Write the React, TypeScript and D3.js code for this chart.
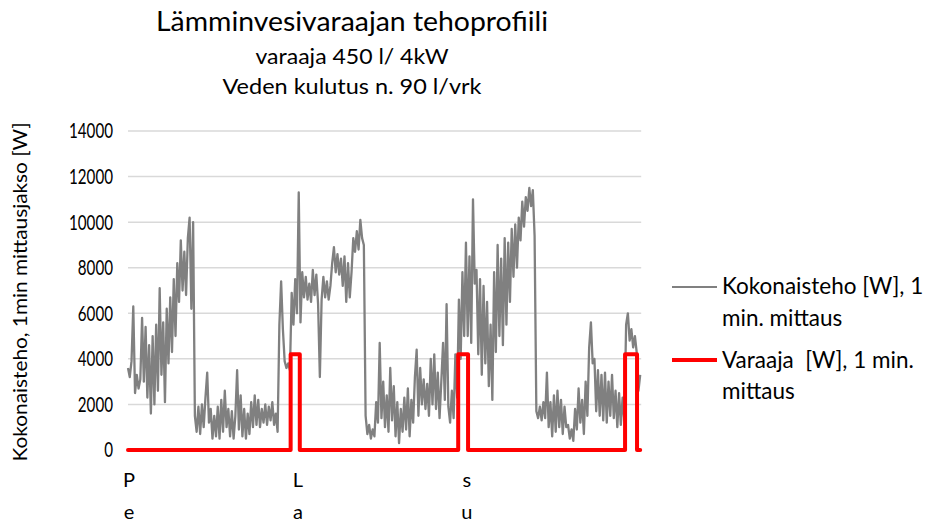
import React from "react";
import * as d3 from "d3";

// Kokonaisteho [W], one reading per 15 minutes, per day (Pe = Fri, La = Sat, Su = Sun)
const kokonaisPe: number[] = [
  3600, 3200, 3900, 6300, 2500, 3300, 2700, 3100, 5800, 3000,
  5400, 2300, 4600, 1600, 5000, 2000, 5500, 2600, 7100, 3300,
  5600, 2100, 6200, 3800, 6700, 4300, 7500, 5000, 8200, 6500,
  9200, 7000, 8700, 6800, 9300, 10200, 6200, 10000, 1500, 800,
  1900, 700, 2000, 1000, 2300, 3400, 1200, 1800, 500, 1500,
  600, 1900, 500, 2200, 800, 2600, 1000, 1800, 600, 1700,
  500, 1500, 3500, 900, 2400, 600, 1800, 500, 1600, 700,
  2100, 1000, 2400, 1100, 2200, 1000, 1800, 1200, 2000, 1100,
  1900, 1300, 2100, 1100, 1600, 800, 5500, 7400, 5300, 3900,
  3600, 3800, 3500, 6900, 5500, 7500,
];
const kokonaisLa: number[] = [
  6000, 11300, 5600, 7800, 6700, 7600, 6600, 7300, 6500, 7900,
  6800, 7700, 6400, 3200, 6600, 7600, 6700, 7400, 6600, 7200,
  8200, 8900, 7800, 8600, 7700, 8400, 7200, 8500, 6500, 8200,
  6700, 7800, 9300, 8700, 9600, 8800, 10100, 9300, 9000, 1500,
  700, 1100, 500, 900, 600, 2100, 1200, 4700, 1400, 3000,
  1000, 2400, 800, 3600, 1300, 2800, 600, 2100, 300, 1800,
  800, 2300, 900, 2700, 600, 2200, 1200, 3200, 4400, 1500,
  3600, 2000, 3100, 1800, 2900, 1500, 4000, 2000, 4200, 1800,
  3400, 1400, 3000, 4700, 2200, 6400, 1900, 1200, 2600, 1400,
  4200, 2300, 6600, 4000, 7800, 5000,
];
const kokonaisSu: number[] = [
  9100, 5000, 8500, 4700, 11000, 7300, 7900, 4200, 7500, 3300,
  7200, 3800, 6500, 2800, 5500, 2200, 7800, 4300, 9000, 5000,
  8400, 4600, 9300, 5500, 9100, 6500, 9700, 7600, 9900, 8000,
  10200, 9200, 10900, 9800, 11100, 10500, 11500, 10700, 11400, 9400,
  1700, 1400, 1900, 1300, 2100, 1400, 3400, 1000, 2100, 600,
  2400, 800, 2600, 1000, 2200, 700, 1900, 1000, 1100, 500,
  900, 400, 1800, 900, 2700, 1200, 2200, 700, 3000, 1500,
  4500, 5600, 3800, 4000, 1700, 3500, 1500, 3300, 1300, 3400,
  1200, 3000, 1500, 3300, 1400, 2600, 1000, 2500, 1100, 2300,
  1300, 5500, 6000, 4800, 5300, 4500, 5000, 4300, 2600, 3300,
];
const mittausvaliH = 0.25;

// Varaaja [W]: on/off switching moments (hours from start) and power after each moment
const varaajaAika: number[] = [0, 23.1, 24.4, 46.9, 48.3, 70.6, 72.3, 72.75];
const varaajaTeho: number[] = [0, 4200, 0, 4200, 0, 4200, 0, 0];

const yTicks: number[] = [0, 2000, 4000, 6000, 8000, 10000, 12000, 14000];
const paivat: string[] = ["Pe", "La", "su"];
const paivaAlku: number[] = [0, 24, 48];

const otsikko = "Lämminvesivaraajan tehoprofiili";
const alaotsikot: string[] = ["varaaja 450 l/ 4kW", "Veden kulutus n. 90 l/vrk"];
const yOtsikko = "Kokonaisteho, 1min mittausjakso [W]";
const selite1: string[] = ["Kokonaisteho [W], 1", "min. mittaus"];
const selite2: string[] = ["Varaaja  [W], 1 min.", "mittaus"];

const W = 933;
const H = 522;
const FONT = "Lato, 'Open Sans', sans-serif";

export default function App() {
  const x = d3.scaleLinear().domain([0, 72.75]).range([128, 640.2]);
  const y = d3.scaleLinear().domain([0, 14000]).range([450, 131]);

  const kokonais: [number, number][] = [];
  [kokonaisPe, kokonaisLa, kokonaisSu].forEach((arr, d) => {
    arr.forEach((v, i) => kokonais.push([paivaAlku[d] + i * mittausvaliH, v]));
  });
  const varaaja: [number, number][] = varaajaAika.map((t, i) => [t, varaajaTeho[i]]);

  const line = d3
    .line<[number, number]>()
    .x((d) => x(d[0]))
    .y((d) => y(d[1]));
  const stepLine = d3
    .line<[number, number]>()
    .x((d) => x(d[0]))
    .y((d) => y(d[1]))
    .curve(d3.curveStepAfter);

  const [x0, x1] = x.range();
  const alaLeveys = [193, 259];

  return (
    <svg
      width={W}
      height={H}
      style={{ position: "absolute", left: 0, top: 0, background: "#fff" }}
      fontFamily={FONT}
    >
      <rect x={0} y={0} width={W} height={H} fill="#fff" />

      {/* titles */}
      <text x={352} y={31} textAnchor="middle" fontSize={26} fontWeight={400} fill="#000"
        textLength={392} lengthAdjust="spacingAndGlyphs">
        {otsikko}
      </text>
      {alaotsikot.map((t, i) => (
        <text key={t} x={352} y={64 + i * 30} textAnchor="middle" fontSize={21} fill="#000"
          textLength={alaLeveys[i]} lengthAdjust="spacingAndGlyphs">
          {t}
        </text>
      ))}

      {/* horizontal gridlines */}
      {yTicks.filter((t) => t > 0).map((t) => (
        <line key={t} x1={x0} x2={x1 + 1} y1={y(t)} y2={y(t)} stroke="#d9d9d9" strokeWidth={1.5} />
      ))}

      {/* y tick labels */}
      {yTicks.map((t) => (
        <text key={t} x={113} y={y(t)} dy="0.36em" textAnchor="end" fontSize={20.5} fill="#000"
          textLength={String(t).length * 8.8} lengthAdjust="spacingAndGlyphs">
          {t}
        </text>
      ))}

      {/* y axis title */}
      <text
        transform={`translate(27, 292) rotate(-90)`}
        textAnchor="middle"
        fontSize={19}
        fill="#000"
        textLength={339}
        lengthAdjust="spacingAndGlyphs"
      >
        {yOtsikko}
      </text>

      {/* day labels, one character per row */}
      {paivat.map((p, i) => (
        <g key={p}>
          {p.split("").map((c, j) => (
            <text key={j} x={x(paivaAlku[i]) + 1} y={487 + j * 32} textAnchor="middle" fontSize={20} fill="#000">
              {c}
            </text>
          ))}
        </g>
      ))}

      {/* series */}
      <path d={line(kokonais) ?? ""} fill="none" stroke="#808080" strokeWidth={2.3} strokeLinejoin="round" />
      <path d={stepLine(varaaja) ?? ""} fill="none" stroke="#ff0000" strokeWidth={4} strokeLinejoin="round" strokeLinecap="round" />

      {/* legend */}
      <line x1={672} x2={717} y1={287} y2={287} stroke="#808080" strokeWidth={1.8} />
      {selite1.map((t, i) => (
        <text key={t} x={722} y={294 + i * 32} fontSize={22.5} fill="#000">
          {t}
        </text>
      ))}
      <line x1={672} x2={717} y1={360} y2={360} stroke="#ff0000" strokeWidth={4} />
      {selite2.map((t, i) => (
        <text key={t} x={722} y={368 + i * 31} fontSize={22.5} fill="#000" style={{ whiteSpace: "pre" }}>
          {t}
        </text>
      ))}
    </svg>
  );
}
